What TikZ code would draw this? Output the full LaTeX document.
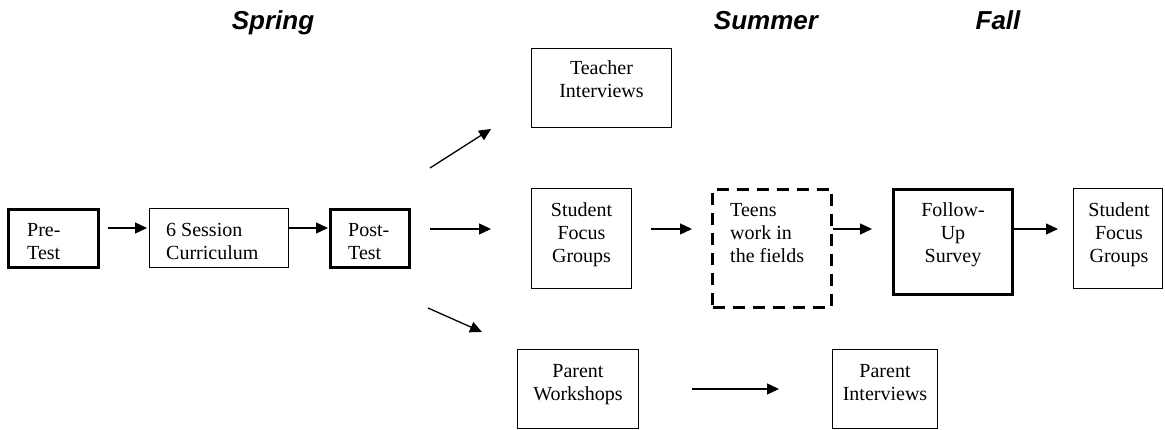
\documentclass[tikz,border=0pt]{standalone}
\usepackage{fontspec}
\setmainfont{Liberation Serif}
\newfontfamily\hdrfont{Liberation Sans}
\usetikzlibrary{arrows.meta}
\begin{document}
\begin{tikzpicture}[x=1pt,y=-1pt,
  box/.style={draw, line width=1.3pt, inner sep=0pt, outer sep=0pt, anchor=north west},
  thickbox/.style={box, line width=3pt},
  dashbox/.style={box, line width=3pt, dash pattern=on 12pt off 8pt},
  txt/.style={inner sep=0pt, align=left, font=\fontsize{20}{23}\selectfont},
  ctxt/.style={inner sep=0pt, align=center, font=\fontsize{20}{23}\selectfont},
  hdr/.style={inner sep=0pt, anchor=base, font=\hdrfont\bfseries\itshape\fontsize{26}{30}\selectfont},
  arr/.style={line width=1.3pt, -{Triangle[length=12pt,width=11pt]}}]
\useasboundingbox (0,0) rectangle (1165,430);

% season headers
\node[hdr] (spring) at (273,30) {Spring};
\node[hdr] (summer) at (766,30) {Summer};
\node[hdr] (fall) at (998,30) {Fall};

% boxes
\node[thickbox, minimum width=90pt, minimum height=58pt] (pre) at (8.5,209.5) {};
\node[box, minimum width=139pt, minimum height=59pt] (curr) at (149.5,208.5) {};
\node[thickbox, minimum width=79pt, minimum height=58pt] (post) at (330.5,209.5) {};
\node[box, minimum width=140pt, minimum height=79pt] (teach) at (531.5,48.5) {};
\node[box, minimum width=100pt, minimum height=100pt] (sfg1) at (531.5,188.5) {};
\node[dashbox, minimum width=119pt, minimum height=118pt] (teens) at (712.5,189.5) {};
\node[thickbox, minimum width=119pt, minimum height=105pt] (follow) at (893.5,189.5) {};
\node[box, minimum width=89pt, minimum height=100pt] (sfg2) at (1073.5,188.5) {};
\node[box, minimum width=121pt, minimum height=79pt] (pw) at (517.5,349.5) {};
\node[box, minimum width=105pt, minimum height=79pt] (pi) at (832.5,349.5) {};

% texts (base anchor = baseline of last line)
\node[txt, anchor=base west] (tpre) at (27,260) {Pre-\\Test};
\node[txt, anchor=base west] (tcurr) at (166,260) {6 Session\\Curriculum};
\node[txt, anchor=base west] (tpost) at (348,260) {Post-\\Test};
\node[ctxt, anchor=base] (tteach) at (601.5,98) {Teacher\\Interviews};
\node[ctxt, anchor=base] (tsfg1) at (581.5,263) {Student\\Focus\\Groups};
\node[txt, anchor=base west] (tteens) at (730,263) {Teens\\work in\\the fields};
\node[ctxt, anchor=base] (tfollow) at (953,263) {Follow-\\Up\\Survey};
\node[ctxt, anchor=base] (tsfg2) at (1119,263) {Student\\Focus\\Groups};
\node[ctxt, anchor=base] (tpw) at (578,400) {Parent\\Workshops};
\node[ctxt, anchor=base] (tpi) at (885,400) {Parent\\Interviews};

% arrow end points
\coordinate (a1s) at (108,228);  \coordinate (a1e) at (147,228);
\coordinate (a2s) at (289,228);  \coordinate (a2e) at (328,228);
\coordinate (a3s) at (430,168);  \coordinate (a3e) at (491,129);
\coordinate (a4s) at (430,229);  \coordinate (a4e) at (491,229);
\coordinate (a5s) at (428,308);  \coordinate (a5e) at (482,332);
\coordinate (a6s) at (651,229);  \coordinate (a6e) at (692,229);
\coordinate (a7s) at (833,229);  \coordinate (a7e) at (872,229);
\coordinate (a8s) at (1014,229); \coordinate (a8e) at (1058,229);
\coordinate (a9s) at (692,389);  \coordinate (a9e) at (779,389);

\draw[arr] (a1s) -- (a1e);
\draw[arr] (a2s) -- (a2e);
\draw[arr] (a3s) -- (a3e);
\draw[arr] (a4s) -- (a4e);
\draw[arr] (a5s) -- (a5e);
\draw[arr] (a6s) -- (a6e);
\draw[arr] (a7s) -- (a7e);
\draw[arr] (a8s) -- (a8e);
\draw[arr] (a9s) -- (a9e);
\end{tikzpicture}
\end{document}
